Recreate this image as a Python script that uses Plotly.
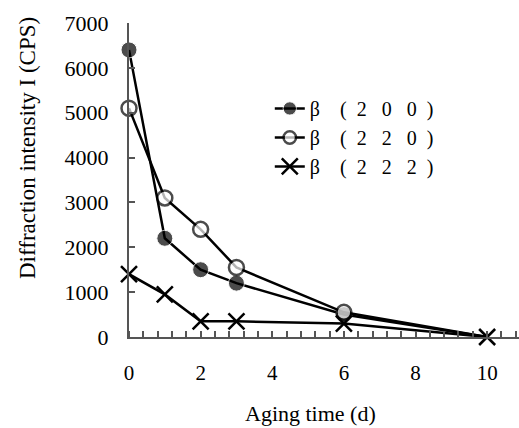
import plotly.graph_objects as go

days = [0, 1, 2, 3, 6, 10]
b200 = [6400, 2200, 1500, 1200, 500, 0]
b220 = [5100, 3100, 2400, 1550, 550, 0]
b222 = [1400, 950, 350, 350, 300, 0]

NB = "\u00a0"
def label(a, b, c):
    return ("β" + NB * 4 + "(" + NB * 2 + a + NB * 3 + b + NB * 3 + c
            + NB * 2 + ")")

names = [label("2", "0", "0"), label("2", "2", "0"), label("2", "2", "2")]

FONT = "Liberation Serif, Times New Roman, serif"

# circles at day 10 are hidden under the cross in the original
circle_sizes_f = [16, 16, 16, 16, 16, 0]
circle_sizes_o = [15, 15, 15, 15, 15, 0]

fig = go.Figure()
fig.add_trace(go.Scatter(x=days, y=b200, name=names[0], mode="lines+markers",
                         line=dict(color="black", width=2.5),
                         marker=dict(symbol="circle", size=circle_sizes_f, color="black"),
                         cliponaxis=False, legendgroup="a"))
fig.add_trace(go.Scatter(x=days, y=b220, name=names[1], mode="lines+markers",
                         line=dict(color="black", width=2.5),
                         marker=dict(symbol="circle", size=circle_sizes_o, color="white",
                                     line=dict(color="black", width=2.5)),
                         cliponaxis=False, legendgroup="b"))
fig.add_trace(go.Scatter(x=days, y=b222, name=names[2], mode="lines+markers",
                         line=dict(color="black", width=2.5),
                         marker=dict(symbol="x-thin", size=16, color="black",
                                     line=dict(color="black", width=2.5)),
                         cliponaxis=False, legendgroup="c"))

L, R, T, B = 129, 0, 23, 91
W, H = 519, 428
pw, ph = W - L - R, H - T - B

def px2paper(px, py):
    return (px - L) / pw, (H - B - py) / ph

ax_x, ax_y = px2paper(310, 413)
ay_x, ay_y = px2paper(27, 148)

fig.update_layout(
    width=W, height=H,
    margin=dict(l=L, r=R, t=T, b=B),
    paper_bgcolor="white", plot_bgcolor="white",
    font=dict(family=FONT, size=21, color="black"),
    showlegend=True,
    legend=dict(x=0.361, y=0.79, xanchor="left", yanchor="top",
                bgcolor="rgba(0,0,0,0)", font=dict(size=20),
                tracegroupgap=0, itemwidth=30),
    xaxis=dict(range=[0, 10.89], tickvals=[0, 2, 4, 6, 8, 10], ticks="",
               showgrid=False, zeroline=False, showline=True,
               linecolor="#555", linewidth=2, ticklabelstandoff=16,
               minor=dict(dtick=0.4, tick0=0, ticks="inside", ticklen=6,
                          tickcolor="#555", tickwidth=1.5, showgrid=False)),
    yaxis=dict(range=[0, 7000], dtick=1000, ticks="inside", ticklen=6,
               tickcolor="#555", tickwidth=1.5, tickfont=dict(size=22),
               showgrid=False, zeroline=False, showline=True,
               linecolor="#555", linewidth=2, ticklabelstandoff=14),
    annotations=[
        dict(text="Aging time (d)", x=ax_x, y=ax_y, xref="paper", yref="paper",
             showarrow=False, xanchor="center", yanchor="middle", font=dict(size=22)),
        dict(text="Diffraction intensity I (CPS)", x=ay_x, y=ay_y, xref="paper",
             yref="paper", showarrow=False, xanchor="center", yanchor="middle",
             textangle=-90, font=dict(size=23)),
    ],
)

fig.write_html("out.html")
